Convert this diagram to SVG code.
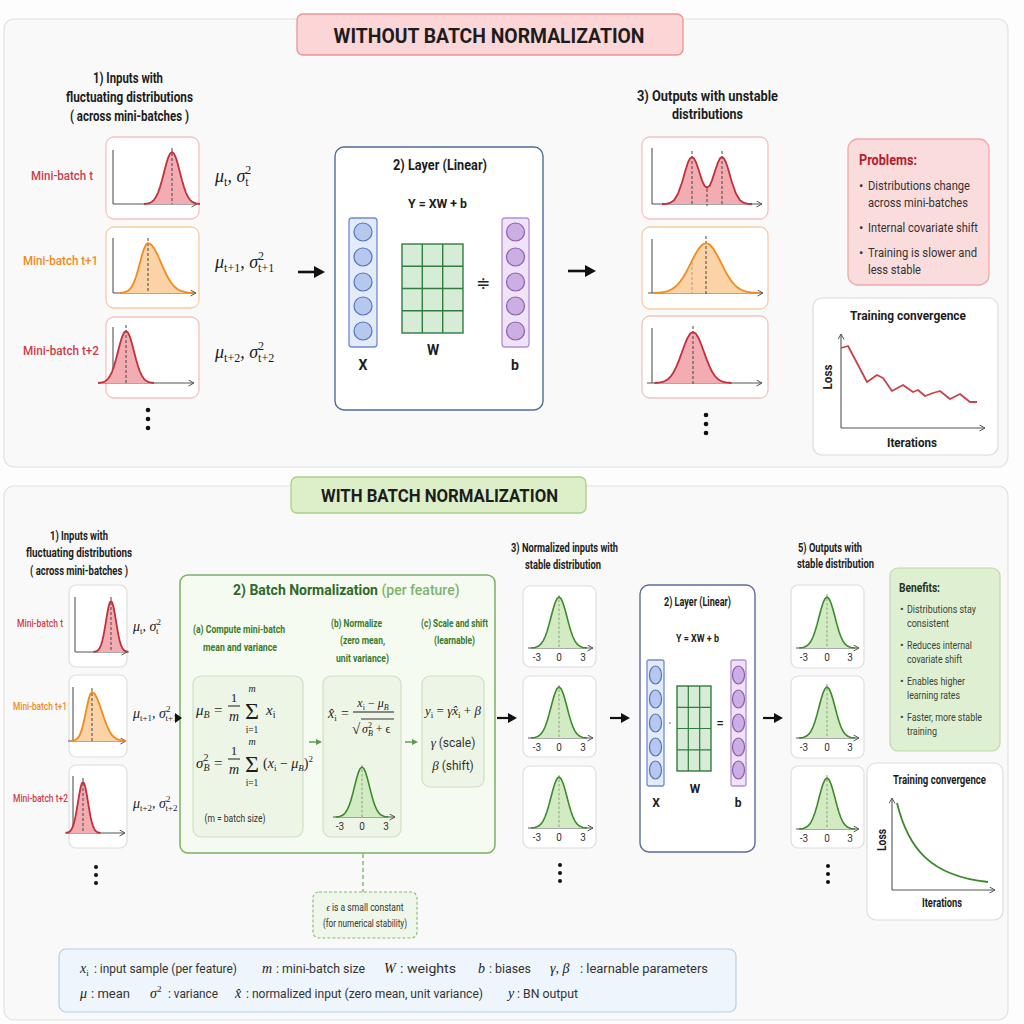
<svg xmlns="http://www.w3.org/2000/svg" width="1024" height="1024" viewBox="0 0 1024 1024">
<defs>
<style>
.hd{font-family:Roboto,"Liberation Sans",Arial,sans-serif;font-weight:700;fill:#1d1d1d}
.mb{font-family:Roboto,"Liberation Sans",Arial,sans-serif;font-weight:500}
.tx{font-family:Roboto,"Liberation Sans",Arial,sans-serif;fill:#333}
.m{font-family:"Liberation Serif","DejaVu Serif",serif;font-style:italic;fill:#1d1d1d}
.mr{font-family:"Liberation Serif","DejaVu Serif",serif;fill:#1d1d1d}
.up{font-style:normal}
.card{fill:#fff;stroke:#dedede;stroke-width:1.2}
.cr{fill:#fff;stroke:#f1c3c3;stroke-width:1.3}
.co{fill:#fff;stroke:#f6cda6;stroke-width:1.3}
.ax{fill:none;stroke:#555;stroke-width:1.1}
.axa{fill:none;stroke:#555;stroke-width:1.1;marker-end:url(#mA)}
.dsh{stroke:#444;stroke-width:1;stroke-dasharray:3 2;fill:none}
.dshl{stroke:#999;stroke-width:0.9;stroke-dasharray:3 2;fill:none}
.dshg{stroke:#7f9a75;stroke-width:0.9;stroke-dasharray:2.5 2;fill:none}
.rf{fill:#f3adb2;stroke:none}
.rs{fill:none;stroke:#c2303c;stroke-width:1.8;stroke-linejoin:round}
.of{fill:#fbd3a6;stroke:none}
.os{fill:none;stroke:#f08c1c;stroke-width:1.8;stroke-linejoin:round}
.gf{fill:#d2ebc3;stroke:none}
.gs{fill:none;stroke:#3c8a2c;stroke-width:1.6;stroke-linejoin:round}
.lbl{font-family:Roboto,"Liberation Sans",sans-serif;font-size:10px;fill:#333;text-anchor:middle}
.arr{stroke:#111;stroke-width:2.6;fill:none;marker-end:url(#mB)}
.arrs{stroke:#111;stroke-width:2.2;fill:none;marker-end:url(#mBs)}
.garr{stroke:#5a9a4a;stroke-width:1.4;fill:none;marker-end:url(#mG)}
.xcol{fill:#e3eafa;stroke:#6f8ccf;stroke-width:1.3}
.xc{fill:#b7c8ef;stroke:#5672bd;stroke-width:1.2}
.bcol{fill:#efe3f7;stroke:#b48fd3;stroke-width:1.3}
.bc{fill:#cbaee2;stroke:#8c5cb3;stroke-width:1.2}
.wg{fill:#d7ecd7;stroke:#2f7d3f;stroke-width:1.4}
.sub{fill:#edf5e6;stroke:#cfe0c4;stroke-width:1.2}
.gh{font-family:Roboto,"Liberation Sans",Arial,sans-serif;font-weight:700;fill:#3a7a2a}
</style>
<marker id="mA" markerWidth="7" markerHeight="7" refX="6" refY="3.5" orient="auto" markerUnits="userSpaceOnUse"><path d="M0.5,0.5 L6,3.5 L0.5,6.5" fill="none" stroke="#555" stroke-width="1"/></marker>
<marker id="mB" markerWidth="12" markerHeight="12" refX="4" refY="6" orient="auto" markerUnits="userSpaceOnUse"><path d="M0,0 L11,6 L0,12 Z" fill="#111"/></marker>
<marker id="mBs" markerWidth="10" markerHeight="10" refX="3" refY="5" orient="auto" markerUnits="userSpaceOnUse"><path d="M0,0 L9,5 L0,10 Z" fill="#111"/></marker>
<marker id="mG" markerWidth="7" markerHeight="7" refX="1" refY="3" orient="auto" markerUnits="userSpaceOnUse"><path d="M0,0 L6,3 L0,6 Z" fill="#5a9a4a"/></marker>
<path id="g" vector-effect="non-scaling-stroke" d="M-35,0 L-30,-1.1 L-27.5,-2.3 L-25,-4.4 L-22.5,-8 L-20,-13.5 L-17.5,-21.6 L-15,-32.5 L-12.5,-45.8 L-10,-60.7 L-7.5,-75.5 L-5,-88.3 L-2.5,-96.9 L0,-100 L2.5,-96.9 L5,-88.3 L7.5,-75.5 L10,-60.7 L12.5,-45.8 L15,-32.5 L17.5,-21.6 L20,-13.5 L22.5,-8 L25,-4.4 L27.5,-2.3 L30,-1.1 L35,0"/>
<path id="k" vector-effect="non-scaling-stroke" d="M-35,0 L-30,-1.1 L-25,-4.4 L-22.5,-8 L-20,-13.5 L-17.5,-21.6 L-15,-32.5 L-12.5,-45.8 L-10,-60.7 L-7.5,-75.5 L-5,-88.3 L-2.5,-96.9 L0,-100 L4.06,-96.9 L8.13,-88.3 L12.19,-75.5 L16.25,-60.7 L20.31,-45.8 L24.38,-32.5 L28.44,-21.6 L32.5,-13.5 L36.56,-8 L40.63,-4.4 L48.75,-1.1 L56.88,0"/>
</defs>

<rect x="0" y="0" width="1024" height="1024" fill="#fdfdfd"/>

<!-- ============ TOP SECTION ============ -->
<g id="panel-top"><rect x="4" y="19" width="1004" height="448" rx="10" fill="#f9f9f9" stroke="#e1e1e1" stroke-width="1.2"/></g>
<g id="title-top">
<rect x="297" y="14" width="386" height="41" rx="6" fill="#fcd6d6" stroke="#eb9494" stroke-width="1.3"/>
<text class="hd" x="489" y="43" font-size="21" text-anchor="middle" textLength="311" lengthAdjust="spacingAndGlyphs">WITHOUT BATCH NORMALIZATION</text>
</g>

<g id="top-inputs-head">
<text class="hd" x="128" y="83" font-size="14" text-anchor="middle" textLength="70" lengthAdjust="spacingAndGlyphs">1) Inputs with</text>
<text class="hd" x="129.5" y="102" font-size="14" text-anchor="middle" textLength="127" lengthAdjust="spacingAndGlyphs">fluctuating distributions</text>
<text class="hd" x="129.5" y="121" font-size="14" text-anchor="middle" textLength="119" lengthAdjust="spacingAndGlyphs">( across mini-batches )</text>
</g>

<g id="top-in-t">
<text class="mb" x="62" y="180" font-size="13" fill="#cf3d4c" text-anchor="middle" textLength="62" lengthAdjust="spacingAndGlyphs">Mini-batch t</text>
<rect class="cr" x="106" y="137" width="93" height="82" rx="8"/>
<path class="ax" d="M113,150 V204"/><path class="axa" d="M113,204 H197"/>
<use href="#g" class="rf" transform="translate(172,204) scale(0.8,0.52)"/>
<line class="dsh" x1="172" y1="148" x2="172" y2="204"/>
<use href="#g" class="rs" transform="translate(172,204) scale(0.8,0.52)"/>
<text class="m" x="215" y="182" font-size="18">μ<tspan class="up" font-size="12" dy="4">t</tspan><tspan dy="-4">, σ</tspan><tspan class="up" font-size="12" dy="-8">2</tspan><tspan class="up" font-size="12" dx="-6" dy="12">t</tspan></text>
</g>

<g id="top-in-t1">
<text class="mb" x="60.5" y="265" font-size="13" fill="#f08a1c" text-anchor="middle" textLength="75" lengthAdjust="spacingAndGlyphs">Mini-batch t+1</text>
<rect class="co" x="106" y="227" width="93" height="81" rx="8"/>
<path class="ax" d="M113,238 V293"/><path class="axa" d="M113,293 H196"/>
<use href="#k" class="of" transform="translate(148,293) scale(0.8,0.5)"/>
<line class="dsh" x1="148" y1="238" x2="148" y2="293"/>
<use href="#k" class="os" transform="translate(148,293) scale(0.8,0.5)"/>
<text class="m" x="215" y="268" font-size="18">μ<tspan class="up" font-size="12" dy="4">t+1</tspan><tspan dy="-4">, σ</tspan><tspan class="up" font-size="12" dy="-8">2</tspan><tspan class="up" font-size="12" dx="-6" dy="12">t+1</tspan></text>
</g>

<g id="top-in-t2">
<text class="mb" x="61" y="355" font-size="13" fill="#cf3d4c" text-anchor="middle" textLength="76" lengthAdjust="spacingAndGlyphs">Mini-batch t+2</text>
<rect class="cr" x="106" y="317" width="93" height="81" rx="8"/>
<path class="ax" d="M113,327 V383"/><path class="axa" d="M99,383 H194"/>
<use href="#g" class="rf" transform="translate(126,383) scale(0.8,0.52)"/>
<line class="dsh" x1="126" y1="325" x2="126" y2="383"/>
<use href="#g" class="rs" transform="translate(126,383) scale(0.8,0.52)"/>
<text class="m" x="215" y="358" font-size="18">μ<tspan class="up" font-size="12" dy="4">t+2</tspan><tspan dy="-4">, σ</tspan><tspan class="up" font-size="12" dy="-8">2</tspan><tspan class="up" font-size="12" dx="-6" dy="12">t+2</tspan></text>
</g>
<g id="top-in-dots" fill="#111"><circle cx="148" cy="410" r="2.3"/><circle cx="148" cy="419" r="2.3"/><circle cx="148" cy="428" r="2.3"/></g>

<g id="top-layer">
<rect x="335" y="147" width="208" height="263" rx="9" fill="#fff" stroke="#4f6c98" stroke-width="1.4"/>
<text class="hd" x="440" y="170" font-size="14" text-anchor="middle" textLength="94" lengthAdjust="spacingAndGlyphs">2) Layer (Linear)</text>
<text class="hd" x="437.5" y="208" font-size="13" text-anchor="middle" textLength="59" lengthAdjust="spacingAndGlyphs">Y = XW + b</text>
<rect class="xcol" x="349" y="218" width="28" height="129" rx="3"/>
<circle class="xc" cx="363" cy="232" r="9"/><circle class="xc" cx="363" cy="257" r="9"/><circle class="xc" cx="363" cy="282" r="9"/><circle class="xc" cx="363" cy="306" r="9"/><circle class="xc" cx="363" cy="331" r="9"/>
<rect class="wg" x="402" y="244" width="61" height="89"/>
<path fill="none" stroke="#2f7d3f" stroke-width="1.4" d="M422.3,244 V333 M442.7,244 V333 M402,266.3 H463 M402,288.5 H463 M402,310.8 H463"/>
<text x="483" y="289" font-family="'DejaVu Sans',sans-serif" font-size="17" text-anchor="middle" fill="#222">≑</text>
<rect class="bcol" x="502" y="218" width="27" height="129" rx="3"/>
<circle class="bc" cx="515.5" cy="232" r="9"/><circle class="bc" cx="515.5" cy="257" r="9"/><circle class="bc" cx="515.5" cy="282" r="9"/><circle class="bc" cx="515.5" cy="306" r="9"/><circle class="bc" cx="515.5" cy="331" r="9"/>
<text class="hd" x="363" y="370" font-size="14" text-anchor="middle">X</text>
<text class="hd" x="433" y="355" font-size="14" text-anchor="middle">W</text>
<text class="hd" x="515" y="370" font-size="14" text-anchor="middle">b</text>
</g>

<g id="top-outputs-head">
<text class="hd" x="707.5" y="101" font-size="14" text-anchor="middle" textLength="141" lengthAdjust="spacingAndGlyphs">3) Outputs with unstable</text>
<text class="hd" x="707.5" y="119" font-size="14" text-anchor="middle" textLength="71" lengthAdjust="spacingAndGlyphs">distributions</text>
</g>

<g id="top-out-1">
<rect class="cr" x="642" y="137" width="126" height="82" rx="8"/>
<path class="ax" d="M652,148 V204"/><path class="axa" d="M652,204 H762"/>
<path class="rf" d="M662,204 L666,203.8 L670,202.9 L674,200.3 L678,193.8 L682,182.5 L686,168.5 L688,162.5 L690,158.4 L692,157 L694,158.3 L696,162.3 L698,168 L702,180.4 L704.5,185.8 L707,187.8 L709.5,185.8 L712,180.4 L716,168 L718,162.3 L720,158.3 L722,157 L724,158.4 L726,162.5 L728,168.5 L732,182.5 L736,193.8 L740,200.3 L744,202.9 L748,203.8 L752,204 Z"/>
<line class="dsh" x1="692" y1="151" x2="692" y2="204"/><line class="dsh" x1="722" y1="151" x2="722" y2="204"/><line class="dsh" x1="707" y1="189" x2="707" y2="206"/>
<path class="rs" d="M662,204 L666,203.8 L670,202.9 L674,200.3 L678,193.8 L682,182.5 L686,168.5 L688,162.5 L690,158.4 L692,157 L694,158.3 L696,162.3 L698,168 L702,180.4 L704.5,185.8 L707,187.8 L709.5,185.8 L712,180.4 L716,168 L718,162.3 L720,158.3 L722,157 L724,158.4 L726,162.5 L728,168.5 L732,182.5 L736,193.8 L740,200.3 L744,202.9 L748,203.8 L752,204"/>
</g>
<g id="top-out-2">
<rect class="co" x="642" y="227" width="126" height="82" rx="8"/>
<path class="ax" d="M652,239 V293"/><path class="axa" d="M648,293 H763"/>
<use href="#g" class="of" transform="translate(706,293) scale(1.5,0.5)"/>
<line class="dshl" x1="692" y1="262" x2="692" y2="293"/>
<line class="dsh" x1="706" y1="236" x2="706" y2="295"/>
<use href="#g" class="os" transform="translate(706,293) scale(1.5,0.5)"/>
</g>
<g id="top-out-3">
<rect class="cr" x="642" y="316" width="126" height="82" rx="8"/>
<path class="ax" d="M652,328 V383"/><path class="axa" d="M647,383 H762"/>
<use href="#g" class="rf" transform="translate(693,383) scale(1.1,0.51)"/>
<line class="dsh" x1="693" y1="326" x2="693" y2="385"/>
<use href="#g" class="rs" transform="translate(693,383) scale(1.1,0.51)"/>
</g>
<g id="top-out-dots" fill="#111"><circle cx="706" cy="415" r="2.3"/><circle cx="706" cy="424" r="2.3"/><circle cx="706" cy="433" r="2.3"/></g>

<g id="problems">
<rect x="848" y="139" width="141" height="146" rx="10" fill="#fbdcdc" stroke="#f0a9a9" stroke-width="1.3"/>
<text class="hd" x="859" y="165" font-size="14" style="fill:#b3202c" textLength="58" lengthAdjust="spacingAndGlyphs">Problems:</text>
<g class="tx" font-size="13">
<text x="859" y="190">•</text><text x="868" y="190" textLength="102" lengthAdjust="spacingAndGlyphs">Distributions change</text>
<text x="868" y="207" textLength="100" lengthAdjust="spacingAndGlyphs">across mini-batches</text>
<text x="859" y="232">•</text><text x="868" y="232" textLength="110" lengthAdjust="spacingAndGlyphs">Internal covariate shift</text>
<text x="859" y="257">•</text><text x="868" y="257" textLength="109" lengthAdjust="spacingAndGlyphs">Training is slower and</text>
<text x="868" y="274" textLength="53" lengthAdjust="spacingAndGlyphs">less stable</text>
</g>
</g>

<g id="top-convergence">
<rect x="813" y="298" width="185" height="157" rx="9" fill="#fff" stroke="#dcdcdc" stroke-width="1.2"/>
<text class="hd" x="908" y="320" font-size="13.5" text-anchor="middle" textLength="116" lengthAdjust="spacingAndGlyphs">Training convergence</text>
<path class="axa" d="M841,428 V334"/><path class="axa" d="M841,428 H985"/>
<path fill="none" stroke="#c8424a" stroke-width="1.8" stroke-linejoin="round" d="M841,348 L848,346 L857,363 L867,382 L877,375 L883,378 L892,391 L903,385 L913,392 L918,390 L925,396 L933,393 L940,391 L950,399 L960,394 L970,402 L977,402"/>
<text class="hd" font-size="13" text-anchor="middle" transform="translate(832,377) rotate(-90)" textLength="25" lengthAdjust="spacingAndGlyphs">Loss</text>
<text class="hd" x="912" y="447" font-size="13" text-anchor="middle" textLength="50" lengthAdjust="spacingAndGlyphs">Iterations</text>
</g>

<!-- ============ BOTTOM SECTION ============ -->
<g id="panel-bottom"><rect x="4" y="486" width="1004" height="534" rx="10" fill="#f9f9f9" stroke="#e1e1e1" stroke-width="1.2"/></g>
<g id="title-bottom">
<rect x="291" y="477" width="295" height="36" rx="6" fill="#dcefc9" stroke="#a9d08a" stroke-width="1.3"/>
<text class="hd" x="439.5" y="502" font-size="18" text-anchor="middle" textLength="237" lengthAdjust="spacingAndGlyphs">WITH BATCH NORMALIZATION</text>
</g>

<g id="bot-inputs-head">
<text class="hd" x="79" y="540" font-size="12" text-anchor="middle" textLength="58" lengthAdjust="spacingAndGlyphs">1) Inputs with</text>
<text class="hd" x="79" y="557" font-size="12" text-anchor="middle" textLength="106" lengthAdjust="spacingAndGlyphs">fluctuating distributions</text>
<text class="hd" x="79" y="575" font-size="12" text-anchor="middle" textLength="98" lengthAdjust="spacingAndGlyphs">( across mini-batches )</text>
</g>

<g id="bot-in-t">
<text class="mb" x="40" y="627" font-size="11" fill="#cf3d4c" text-anchor="middle" textLength="46" lengthAdjust="spacingAndGlyphs">Mini-batch t</text>
<rect class="card" x="69" y="585" width="58" height="82" rx="7"/>
<path class="ax" d="M75,597 V652"/><path class="axa" d="M75,652 H127"/>
<use href="#g" class="rf" transform="translate(111,652) scale(0.5,0.51)"/>
<line class="dsh" x1="111" y1="597" x2="111" y2="652"/>
<use href="#g" class="rs" transform="translate(111,652) scale(0.5,0.51)"/>
<text class="m" x="133" y="631" font-size="14">μ<tspan class="up" font-size="9" dy="3">t</tspan><tspan dy="-3">, σ</tspan><tspan class="up" font-size="9" dy="-6">2</tspan><tspan class="up" font-size="9" dx="-5" dy="9">t</tspan></text>
</g>
<g id="bot-in-t1">
<text class="mb" x="40" y="710" font-size="11" fill="#f08a1c" text-anchor="middle" textLength="54" lengthAdjust="spacingAndGlyphs">Mini-batch t+1</text>
<rect class="card" x="69" y="675" width="58" height="82" rx="7"/>
<path class="ax" d="M73,687 V741"/><path class="axa" d="M68,741 H126"/>
<use href="#k" class="of" transform="translate(92,741) scale(0.6,0.49)"/>
<line class="dsh" x1="92" y1="688" x2="92" y2="741"/>
<use href="#k" class="os" transform="translate(92,741) scale(0.6,0.49)"/>
<text class="m" x="133" y="718" font-size="14">μ<tspan class="up" font-size="9" dy="3">t+1</tspan><tspan dy="-3">, σ</tspan><tspan class="up" font-size="9" dy="-6">2</tspan><tspan class="up" font-size="9" dx="-5" dy="9">t+1</tspan></text>
</g>
<g id="bot-in-t2">
<text class="mb" x="40.5" y="802" font-size="11" fill="#cf3d4c" text-anchor="middle" textLength="55" lengthAdjust="spacingAndGlyphs">Mini-batch t+2</text>
<rect class="card" x="69" y="765" width="58" height="83" rx="7"/>
<path class="ax" d="M73,776 V833"/><path class="axa" d="M67,833 H125"/>
<use href="#g" class="rf" transform="translate(83,833) scale(0.5,0.51)"/>
<line class="dsh" x1="83" y1="778" x2="83" y2="833"/>
<use href="#g" class="rs" transform="translate(83,833) scale(0.5,0.51)"/>
<text class="m" x="133" y="808" font-size="14">μ<tspan class="up" font-size="9" dy="3">t+2</tspan><tspan dy="-3">, σ</tspan><tspan class="up" font-size="9" dy="-6">2</tspan><tspan class="up" font-size="9" dx="-5" dy="9">t+2</tspan></text>
</g>
<g id="bot-in-dots" fill="#111"><circle cx="96" cy="867" r="2"/><circle cx="96" cy="875" r="2"/><circle cx="96" cy="883" r="2"/></g>

<g id="bn">
<rect x="180" y="575" width="315" height="278" rx="8" fill="#f6fbf2" stroke="#79b063" stroke-width="1.5"/>
<text x="233" y="595" font-family="Roboto,'Liberation Sans',sans-serif" font-size="14" font-weight="700"><tspan fill="#2f6a26">2) Batch Normalization</tspan><tspan fill="#7db46a" font-weight="500"> (per feature)</tspan></text>
<text class="gh" x="193" y="633" font-size="11.5" textLength="92" lengthAdjust="spacingAndGlyphs">(a) Compute mini-batch</text>
<text class="gh" x="203" y="651" font-size="11.5" textLength="74" lengthAdjust="spacingAndGlyphs">mean and variance</text>
<text class="gh" x="331" y="627" font-size="11.5" textLength="51" lengthAdjust="spacingAndGlyphs">(b) Normalize</text>
<text class="gh" x="340" y="644" font-size="11.5" textLength="45" lengthAdjust="spacingAndGlyphs">(zero mean,</text>
<text class="gh" x="336" y="662" font-size="11.5" textLength="53" lengthAdjust="spacingAndGlyphs">unit variance)</text>
<text class="gh" x="421" y="627" font-size="11.5" textLength="67" lengthAdjust="spacingAndGlyphs">(c) Scale and shift</text>
<text class="gh" x="434" y="644" font-size="11.5" textLength="41" lengthAdjust="spacingAndGlyphs">(learnable)</text>

<rect class="sub" x="193" y="676" width="110" height="161" rx="8"/>
<text class="m" x="196" y="715" font-size="15">μ<tspan font-size="10" dy="3">B</tspan></text>
<text class="mr" x="214" y="715" font-size="15">=</text>
<text class="mr" x="234" y="702" font-size="13" text-anchor="middle">1</text>
<line x1="228" y1="706" x2="240" y2="706" stroke="#1d1d1d" stroke-width="1"/>
<text class="m" x="234" y="721" font-size="14" text-anchor="middle">m</text>
<text class="mr" x="252" y="719" font-size="24" text-anchor="middle">Σ</text>
<text class="m" x="252" y="692" font-size="10" text-anchor="middle">m</text>
<text class="mr" x="252" y="733" font-size="9.5" text-anchor="middle">i=1</text>
<text class="m" x="266" y="715" font-size="15">x<tspan class="up" font-size="10" dy="3">i</tspan></text>
<text class="m" x="196" y="768" font-size="15">σ<tspan class="up" font-size="10" dy="-7">2</tspan><tspan font-size="10" dx="-5" dy="10">B</tspan></text>
<text class="mr" x="214" y="768" font-size="15">=</text>
<text class="mr" x="234" y="755" font-size="13" text-anchor="middle">1</text>
<line x1="228" y1="759" x2="240" y2="759" stroke="#1d1d1d" stroke-width="1"/>
<text class="m" x="234" y="774" font-size="14" text-anchor="middle">m</text>
<text class="mr" x="252" y="772" font-size="24" text-anchor="middle">Σ</text>
<text class="m" x="252" y="745" font-size="10" text-anchor="middle">m</text>
<text class="mr" x="252" y="786" font-size="9.5" text-anchor="middle">i=1</text>
<text class="m" x="263" y="768" font-size="14"><tspan class="up">(</tspan>x<tspan class="up" font-size="9" dy="3">i</tspan><tspan class="up" dy="-3"> − </tspan>μ<tspan font-size="9" dy="3">B</tspan><tspan class="up" dy="-3">)</tspan><tspan class="up" font-size="9" dy="-6">2</tspan></text>
<text class="tx" x="235" y="822" font-size="11.5" text-anchor="middle" textLength="61" lengthAdjust="spacingAndGlyphs">(m = batch size)</text>

<rect class="sub" x="323" y="676" width="78" height="161" rx="8"/>
<text class="m" x="328" y="718" font-size="14">x̂<tspan class="up" font-size="9" dy="3">i</tspan></text>
<text class="mr" x="341" y="718" font-size="14">=</text>
<text class="m" x="373" y="707" font-size="12" text-anchor="middle">x<tspan class="up" font-size="8" dy="3">i</tspan><tspan class="up" dy="-3"> − </tspan>μ<tspan font-size="8" dy="3">B</tspan></text>
<line x1="353" y1="712" x2="394" y2="712" stroke="#1d1d1d" stroke-width="1"/>
<text class="mr" x="352" y="734" font-size="15">√</text>
<line x1="361" y1="719" x2="394" y2="719" stroke="#1d1d1d" stroke-width="0.9"/>
<text class="m" x="362" y="733" font-size="12">σ<tspan class="up" font-size="8" dy="-5">2</tspan><tspan font-size="8" dx="-4" dy="8">B</tspan><tspan class="up" dy="-3"> + ϵ</tspan></text>
<path class="axa" d="M333,817 H395"/>
<use href="#g" class="gf" transform="translate(362,817) scale(0.75,0.5)"/>
<line class="dshg" x1="362" y1="765" x2="362" y2="817"/>
<use href="#g" class="gs" transform="translate(362,817) scale(0.75,0.5)"/>
<text class="lbl" x="340" y="830">-3</text><text class="lbl" x="362" y="830">0</text><text class="lbl" x="386" y="830">3</text>

<rect class="sub" x="422" y="676" width="62" height="111" rx="8"/>
<text class="m" x="453" y="715" font-size="13" text-anchor="middle">y<tspan class="up" font-size="9" dy="3">i</tspan><tspan class="up" dy="-3"> = </tspan>γx̂<tspan class="up" font-size="9" dy="3">i</tspan><tspan class="up" dy="-3"> + </tspan>β</text>
<text x="453" y="747" font-size="12" text-anchor="middle" class="tx"><tspan class="m" font-size="13">γ</tspan> (scale)</text>
<text x="453" y="770" font-size="12" text-anchor="middle" class="tx"><tspan class="m" font-size="13">β</tspan> (shift)</text>
</g>

<g id="epsilon-note">
<rect x="313" y="892" width="104" height="46" rx="6" fill="#eff7ea" stroke="#86b872" stroke-width="1.1" stroke-dasharray="3 2"/>
<text class="tx" x="365" y="911" font-size="10.5" text-anchor="middle" textLength="77" lengthAdjust="spacingAndGlyphs"><tspan class="m">ϵ</tspan> is a small constant</text>
<text class="tx" x="365" y="927" font-size="10.5" text-anchor="middle" textLength="84" lengthAdjust="spacingAndGlyphs">(for numerical stability)</text>
</g>

<g id="bot-norm-head">
<text class="hd" x="564.5" y="552" font-size="12.5" text-anchor="middle" textLength="107" lengthAdjust="spacingAndGlyphs">3) Normalized inputs with</text>
<text class="hd" x="563" y="569" font-size="12.5" text-anchor="middle" textLength="76" lengthAdjust="spacingAndGlyphs">stable distribution</text>
</g>
<g id="bot-norm-1">
<rect class="card" x="523" y="586" width="73" height="81" rx="7"/>
<path class="axa" d="M528,648 H593"/>
<use href="#g" class="gf" transform="translate(559,648) scale(0.8,0.51)"/>
<line class="dshg" x1="559" y1="595" x2="559" y2="648"/>
<use href="#g" class="gs" transform="translate(559,648) scale(0.8,0.51)"/>
<text class="lbl" x="537" y="661">-3</text><text class="lbl" x="559" y="661">0</text><text class="lbl" x="583" y="661">3</text>
</g>
<g id="bot-norm-2">
<rect class="card" x="523" y="676" width="73" height="81" rx="7"/>
<path class="axa" d="M528,738 H593"/>
<use href="#g" class="gf" transform="translate(559,738) scale(0.8,0.51)"/>
<line class="dshg" x1="559" y1="685" x2="559" y2="738"/>
<use href="#g" class="gs" transform="translate(559,738) scale(0.8,0.51)"/>
<text class="lbl" x="537" y="751">-3</text><text class="lbl" x="559" y="751">0</text><text class="lbl" x="583" y="751">3</text>
</g>
<g id="bot-norm-3">
<rect class="card" x="523" y="766" width="73" height="82" rx="7"/>
<path class="axa" d="M528,828 H593"/>
<use href="#g" class="gf" transform="translate(559,828) scale(0.8,0.51)"/>
<line class="dshg" x1="559" y1="775" x2="559" y2="828"/>
<use href="#g" class="gs" transform="translate(559,828) scale(0.8,0.51)"/>
<text class="lbl" x="537" y="841">-3</text><text class="lbl" x="559" y="841">0</text><text class="lbl" x="583" y="841">3</text>
</g>
<g id="bot-norm-dots" fill="#111"><circle cx="560" cy="865" r="2"/><circle cx="560" cy="873" r="2"/><circle cx="560" cy="881" r="2"/></g>

<g id="bot-layer">
<rect x="640" y="585" width="115" height="267" rx="9" fill="#fff" stroke="#5b6b9e" stroke-width="1.4"/>
<text class="hd" x="697.5" y="606" font-size="12" text-anchor="middle" textLength="67" lengthAdjust="spacingAndGlyphs">2) Layer (Linear)</text>
<text class="hd" x="697.5" y="642" font-size="11" text-anchor="middle" textLength="43" lengthAdjust="spacingAndGlyphs">Y = XW + b</text>
<rect class="xcol" x="647" y="660" width="17" height="126" rx="2"/>
<ellipse class="xc" cx="655.5" cy="675" rx="6" ry="9"/><ellipse class="xc" cx="655.5" cy="699" rx="6" ry="9"/><ellipse class="xc" cx="655.5" cy="723" rx="6" ry="9"/><ellipse class="xc" cx="655.5" cy="747" rx="6" ry="9"/><ellipse class="xc" cx="655.5" cy="770" rx="6" ry="9"/>
<circle cx="670" cy="723" r="0.9" fill="#999"/>
<rect class="wg" x="677" y="686" width="34" height="85"/>
<path fill="none" stroke="#2f7d3f" stroke-width="1.2" d="M688.3,686 V771 M699.7,686 V771 M677,707.3 H711 M677,728.5 H711 M677,749.8 H711"/>
<text x="720" y="728" font-family="Roboto,'Liberation Sans',sans-serif" font-size="14" text-anchor="middle" fill="#222">=</text>
<rect class="bcol" x="731" y="660" width="15" height="126" rx="2"/>
<ellipse class="bc" cx="738.5" cy="675" rx="6" ry="9"/><ellipse class="bc" cx="738.5" cy="699" rx="6" ry="9"/><ellipse class="bc" cx="738.5" cy="723" rx="6" ry="9"/><ellipse class="bc" cx="738.5" cy="747" rx="6" ry="9"/><ellipse class="bc" cx="738.5" cy="770" rx="6" ry="9"/>
<text class="hd" x="656" y="807" font-size="12" text-anchor="middle">X</text>
<text class="hd" x="695" y="793" font-size="12" text-anchor="middle">W</text>
<text class="hd" x="738" y="807" font-size="12" text-anchor="middle">b</text>
</g>

<g id="bot-out-head">
<text class="hd" x="830" y="552" font-size="12.5" text-anchor="middle" textLength="64" lengthAdjust="spacingAndGlyphs">5) Outputs with</text>
<text class="hd" x="835.5" y="568" font-size="12.5" text-anchor="middle" textLength="77" lengthAdjust="spacingAndGlyphs">stable distribution</text>
</g>
<g id="bot-out-1">
<rect class="card" x="791" y="585" width="73" height="83" rx="7"/>
<path class="axa" d="M796,648 H859"/>
<use href="#g" class="gf" transform="translate(827,648) scale(0.8,0.51)"/>
<line class="dshg" x1="827" y1="594" x2="827" y2="648"/>
<use href="#g" class="gs" transform="translate(827,648) scale(0.8,0.51)"/>
<text class="lbl" x="804" y="661">-3</text><text class="lbl" x="827" y="661">0</text><text class="lbl" x="850" y="661">3</text>
</g>
<g id="bot-out-2">
<rect class="card" x="791" y="676" width="73" height="82" rx="7"/>
<path class="axa" d="M796,738 H859"/>
<use href="#g" class="gf" transform="translate(827,738) scale(0.8,0.51)"/>
<line class="dshg" x1="827" y1="684" x2="827" y2="738"/>
<use href="#g" class="gs" transform="translate(827,738) scale(0.8,0.51)"/>
<text class="lbl" x="804" y="751">-3</text><text class="lbl" x="827" y="751">0</text><text class="lbl" x="850" y="751">3</text>
</g>
<g id="bot-out-3">
<rect class="card" x="791" y="766" width="73" height="82" rx="7"/>
<path class="axa" d="M796,829 H859"/>
<use href="#g" class="gf" transform="translate(827,829) scale(0.8,0.51)"/>
<line class="dshg" x1="827" y1="775" x2="827" y2="829"/>
<use href="#g" class="gs" transform="translate(827,829) scale(0.8,0.51)"/>
<text class="lbl" x="804" y="842">-3</text><text class="lbl" x="827" y="842">0</text><text class="lbl" x="850" y="842">3</text>
</g>
<g id="bot-out-dots" fill="#111"><circle cx="828" cy="866" r="2"/><circle cx="828" cy="874" r="2"/><circle cx="828" cy="882" r="2"/></g>

<g id="benefits">
<rect x="890" y="568" width="110" height="183" rx="8" fill="#dff0d2" stroke="#bcd9a8" stroke-width="1.2"/>
<text class="hd" x="899" y="592" font-size="12" style="fill:#25331f" textLength="41" lengthAdjust="spacingAndGlyphs">Benefits:</text>
<g font-family="Roboto,'Liberation Sans',sans-serif" font-size="11" fill="#3a4436">
<text x="900" y="613">•</text><text x="907" y="613" textLength="69" lengthAdjust="spacingAndGlyphs">Distributions stay</text>
<text x="907" y="627" textLength="42" lengthAdjust="spacingAndGlyphs">consistent</text>
<text x="900" y="649">•</text><text x="907" y="649" textLength="65" lengthAdjust="spacingAndGlyphs">Reduces internal</text>
<text x="907" y="663" textLength="55" lengthAdjust="spacingAndGlyphs">covariate shift</text>
<text x="900" y="685">•</text><text x="907" y="685" textLength="58" lengthAdjust="spacingAndGlyphs">Enables higher</text>
<text x="907" y="699" textLength="53" lengthAdjust="spacingAndGlyphs">learning rates</text>
<text x="900" y="721">•</text><text x="907" y="721" textLength="75" lengthAdjust="spacingAndGlyphs">Faster, more stable</text>
<text x="907" y="735" textLength="30" lengthAdjust="spacingAndGlyphs">training</text>
</g>
</g>

<g id="bot-convergence">
<rect x="867" y="763" width="136" height="157" rx="9" fill="#fff" stroke="#dcdcdc" stroke-width="1.2"/>
<text class="hd" x="939.5" y="784" font-size="12" text-anchor="middle" textLength="93" lengthAdjust="spacingAndGlyphs">Training convergence</text>
<path class="axa" d="M892,890 V798"/><path class="axa" d="M892,890 H995"/>
<path fill="none" stroke="#3c8a2c" stroke-width="1.8" d="M897,803 C908,848 930,876 988,882"/>
<text class="hd" font-size="12" text-anchor="middle" transform="translate(886,840) rotate(-90)" textLength="22" lengthAdjust="spacingAndGlyphs">Loss</text>
<text class="hd" x="942" y="907" font-size="12" text-anchor="middle" textLength="40" lengthAdjust="spacingAndGlyphs">Iterations</text>
</g>

<g id="legend">
<rect x="59" y="949" width="677" height="63" rx="7" fill="#eef5fc" stroke="#b9cde3" stroke-width="1.2"/>
<g class="tx" font-size="12">
<text class="m" x="80" y="973" font-size="14">x<tspan class="up" font-size="9" dy="3">i</tspan></text>
<text x="94" y="973" textLength="143" lengthAdjust="spacingAndGlyphs">: input sample (per feature)</text>
<text class="m" x="262" y="973" font-size="14">m</text>
<text x="276" y="973" textLength="89" lengthAdjust="spacingAndGlyphs">: mini-batch size</text>
<text class="m" x="384" y="973" font-size="14">W</text>
<text x="400" y="973" textLength="56" lengthAdjust="spacingAndGlyphs">: weights</text>
<text class="m" x="478" y="973" font-size="14">b</text>
<text x="489" y="973" textLength="42" lengthAdjust="spacingAndGlyphs">: biases</text>
<text class="m" x="550" y="973" font-size="14">γ, β</text>
<text x="580" y="973" textLength="128" lengthAdjust="spacingAndGlyphs">: learnable parameters</text>
<text class="m" x="80" y="998" font-size="14">μ</text>
<text x="91" y="998" textLength="39" lengthAdjust="spacingAndGlyphs">: mean</text>
<text class="m" x="150" y="998" font-size="14">σ<tspan class="up" font-size="9" dy="-6">2</tspan></text>
<text x="168" y="998" textLength="50" lengthAdjust="spacingAndGlyphs">: variance</text>
<text class="m" x="235" y="998" font-size="14">x̂</text>
<text x="246" y="998" textLength="237" lengthAdjust="spacingAndGlyphs">: normalized input (zero mean, unit variance)</text>
<text class="m" x="508" y="998" font-size="14">y</text>
<text x="517" y="998" textLength="61" lengthAdjust="spacingAndGlyphs">: BN output</text>
</g>
</g>

<g id="connectors">
<line class="arr" x1="298" y1="272" x2="318" y2="272"/>
<line class="arr" x1="568" y1="271" x2="589" y2="271"/>
<polygon points="175,713 182,718 175,723" fill="#111"/>
<line class="garr" x1="309" y1="742" x2="317" y2="742"/>
<line class="garr" x1="405" y1="742" x2="413" y2="742"/>
<line class="arrs" x1="497" y1="718" x2="511" y2="718"/>
<line class="arrs" x1="610" y1="718" x2="624" y2="718"/>
<line class="arrs" x1="763" y1="718" x2="777" y2="718"/>
<line x1="363" y1="854" x2="363" y2="892" stroke="#79b063" stroke-width="1.3" stroke-dasharray="4 3"/>
</g>
</svg>
